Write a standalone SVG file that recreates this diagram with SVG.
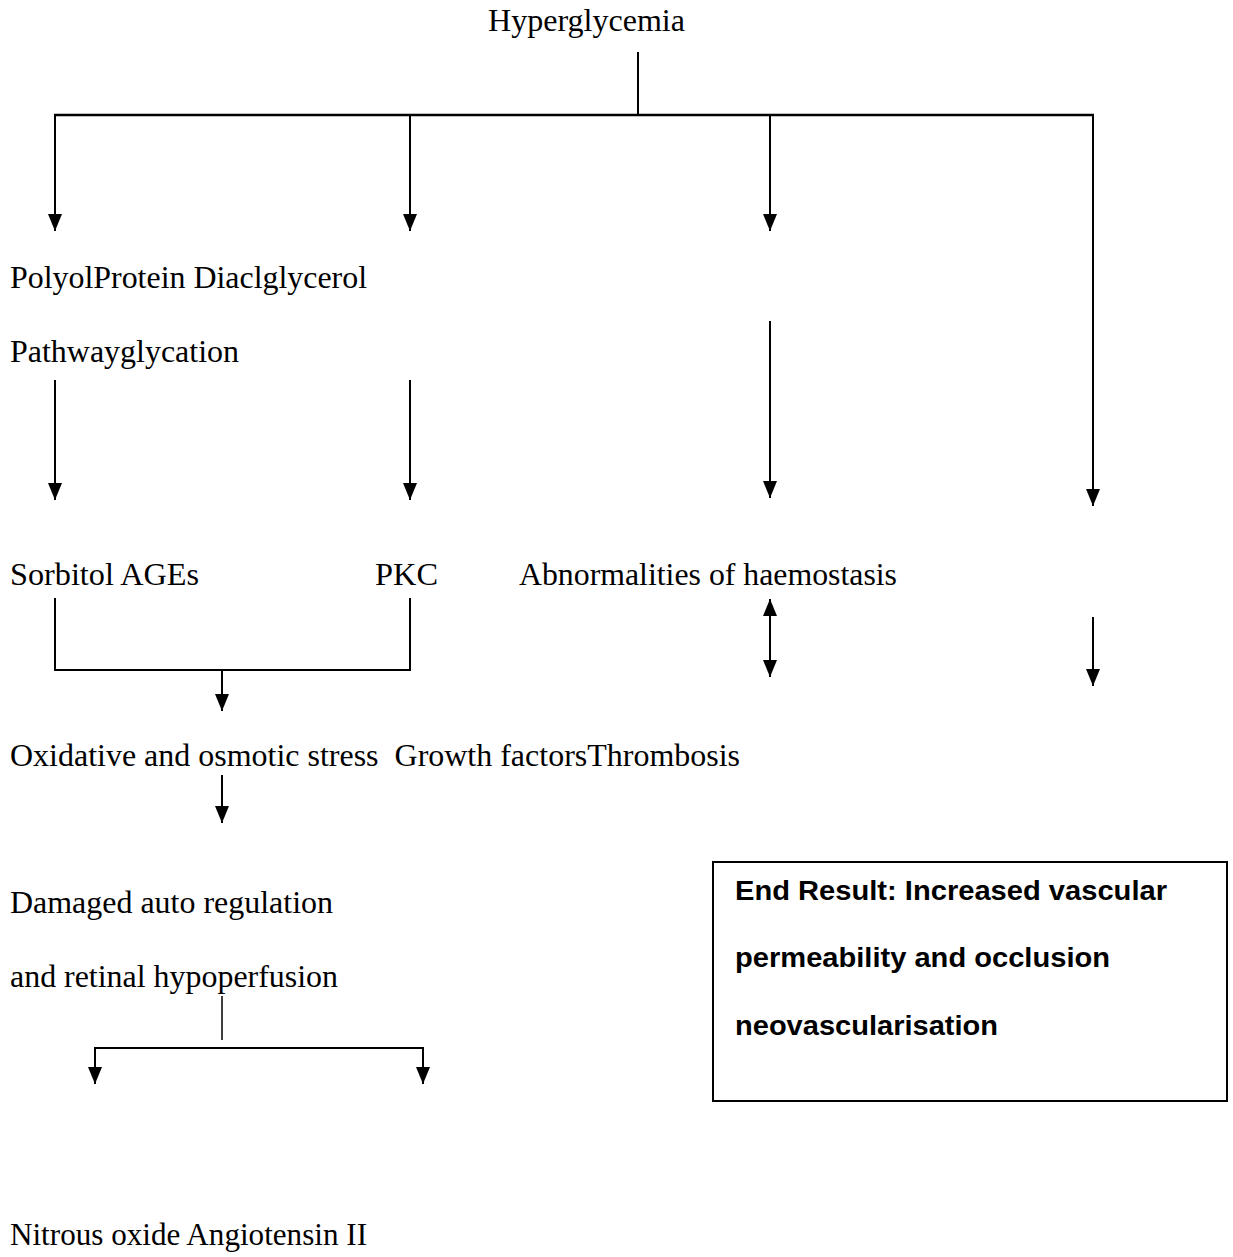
<svg xmlns="http://www.w3.org/2000/svg" width="1233" height="1257" viewBox="0 0 1233 1257">
<style>
.t{font-family:"Liberation Serif","Times New Roman",serif;font-size:32px;fill:#000}
.b{font-family:"Liberation Sans",Arial,sans-serif;font-size:27px;font-weight:bold;fill:#000}
.c{stroke:#000;stroke-width:2;fill:none}
</style>
<defs>
<marker id="ad" viewBox="0 0 17 14" refX="17" refY="7" markerWidth="17" markerHeight="14" markerUnits="userSpaceOnUse" orient="auto-start-reverse">
<path d="M0,0 L17,7 L0,14 Z" fill="#000"/>
</marker>
</defs>
<rect width="1233" height="1257" fill="#fff"/>
<g id="connectors">
<line class="c" x1="638" y1="52" x2="638" y2="115"/>
<line class="c" x1="54" y1="115" x2="1094" y2="115" style="stroke-width:2.5"/>
<line class="c" x1="55" y1="115" x2="55" y2="231" marker-end="url(#ad)"/>
<line class="c" x1="410" y1="115" x2="410" y2="231" marker-end="url(#ad)"/>
<line class="c" x1="770" y1="115" x2="770" y2="231" marker-end="url(#ad)"/>
<line class="c" x1="1093" y1="115" x2="1093" y2="506" marker-end="url(#ad)"/>
<line class="c" x1="55" y1="380" x2="55" y2="500" marker-end="url(#ad)"/>
<line class="c" x1="410" y1="380" x2="410" y2="500" marker-end="url(#ad)"/>
<line class="c" x1="770" y1="321" x2="770" y2="498" marker-end="url(#ad)"/>
<line class="c" x1="770" y1="599" x2="770" y2="677" marker-start="url(#ad)" marker-end="url(#ad)"/>
<line class="c" x1="1093" y1="617" x2="1093" y2="686" marker-end="url(#ad)"/>
<polyline class="c" points="55,598 55,670 410,670 410,598"/>
<line class="c" x1="222" y1="670" x2="222" y2="711" marker-end="url(#ad)"/>
<line class="c" x1="222" y1="775" x2="222" y2="823" marker-end="url(#ad)"/>
<line class="c" x1="222" y1="996" x2="222" y2="1040" style="stroke-width:1.5"/>
<polyline class="c" points="95,1070 95,1048 423,1048 423,1070"/>
<line class="c" x1="95" y1="1060" x2="95" y2="1084" marker-end="url(#ad)"/>
<line class="c" x1="423" y1="1060" x2="423" y2="1084" marker-end="url(#ad)"/>
</g>
<g id="n-hyper"><text class="t" x="488" y="31" textLength="197" lengthAdjust="spacingAndGlyphs">Hyperglycemia</text></g>
<g id="n-polyol"><text class="t" x="10" y="288" textLength="357" lengthAdjust="spacingAndGlyphs">PolyolProtein Diaclglycerol</text></g>
<g id="n-pathway"><text class="t" x="10" y="362" textLength="229" lengthAdjust="spacingAndGlyphs">Pathwayglycation</text></g>
<g id="n-sorbitol"><text class="t" x="10" y="585" textLength="189" lengthAdjust="spacingAndGlyphs">Sorbitol AGEs</text></g>
<g id="n-pkc"><text class="t" x="375" y="585" textLength="63" lengthAdjust="spacingAndGlyphs">PKC</text></g>
<g id="n-abnorm"><text class="t" x="519" y="585" textLength="378" lengthAdjust="spacingAndGlyphs">Abnormalities of haemostasis</text></g>
<g id="n-oxid"><text class="t" x="10" y="766" textLength="730" lengthAdjust="spacingAndGlyphs" xml:space="preserve">Oxidative and osmotic stress  Growth factorsThrombosis</text></g>
<g id="n-damaged"><text class="t" x="10" y="913" textLength="323" lengthAdjust="spacingAndGlyphs">Damaged auto regulation</text>
<text class="t" x="10" y="987" textLength="328" lengthAdjust="spacingAndGlyphs">and retinal hypoperfusion</text></g>
<g id="n-nitrous"><text class="t" x="10" y="1245" textLength="357" lengthAdjust="spacingAndGlyphs">Nitrous oxide Angiotensin II</text></g>
<g id="n-end">
<rect x="713" y="862" width="514" height="239" fill="#fff" stroke="#000" stroke-width="2"/>
<text class="b" x="735" y="900" textLength="432" lengthAdjust="spacingAndGlyphs">End Result: Increased vascular</text>
<text class="b" x="735" y="967" textLength="375" lengthAdjust="spacingAndGlyphs">permeability and occlusion</text>
<text class="b" x="735" y="1035" textLength="263" lengthAdjust="spacingAndGlyphs">neovascularisation</text>
</g>
</svg>
